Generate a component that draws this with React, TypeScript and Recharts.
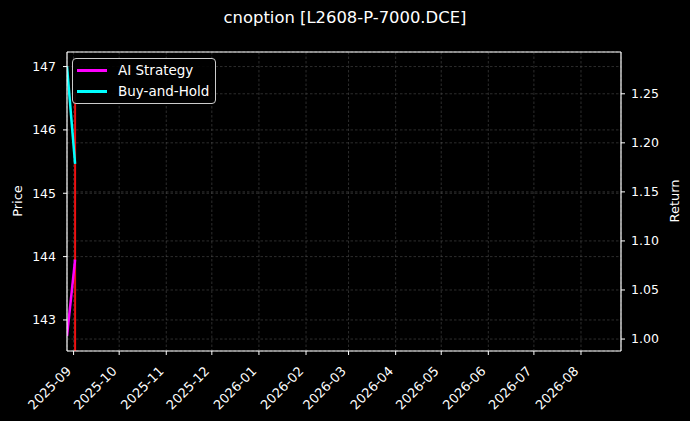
import { CartesianGrid, Line, LineChart, ReferenceLine, XAxis, YAxis } from 'recharts';

// sample times of the two series (UTC)
const dates = ['2025-08-27T16:00:00Z', '2025-09-02T00:00:00Z'];
const aiStrategy = [1.003, 1.081];
const buyAndHold = [1.278, 1.1785];

// red price trace on the signal day (low / high)
const signalDate = '2025-09-02T00:00:00Z';
const signalRange = [142.0, 146.6];

const monthTicks = [
  '2025-09', '2025-10', '2025-11', '2025-12', '2026-01', '2026-02',
  '2026-03', '2026-04', '2026-05', '2026-06', '2026-07', '2026-08',
];
const priceTicks = [143, 144, 145, 146, 147];
const returnTicks = [1.0, 1.05, 1.1, 1.15, 1.2, 1.25];

const xStart = Date.parse('2025-08-27T16:00:00Z');
const xEnd = Date.parse('2026-08-27T08:00:00Z');
const priceDomain = [142.51, 147.23];
const returnDomain = [0.9878, 1.2926];

const series = [
  { name: 'AI Strategy', key: 'ai', color: '#ff00ff' },
  { name: 'Buy-and-Hold', key: 'bh', color: '#00ffff' },
];

const data = dates.map((d, i) => ({
  t: Date.parse(d),
  ai: aiStrategy[i],
  bh: buyAndHold[i],
}));

const font = '"DejaVu Sans", sans-serif';
const fg = '#ffffff';

const monthMs = (m: string) => Date.parse(m + '-01T00:00:00Z');

const DateTick = (props: any) => {
  const { x, y, payload } = props;
  const d = new Date(payload.value);
  const label = `${d.getUTCFullYear()}-${String(d.getUTCMonth() + 1).padStart(2, '0')}`;
  return (
    <g transform={`translate(${x - 1.6},${y + 15})`}>
      <text textAnchor="end" transform="rotate(-45)" fill={fg} fontSize={13} fontFamily={font}>
        {label}
      </text>
    </g>
  );
};

const gridStyle = { stroke: '#5a5a5a', strokeDasharray: '2.5 2', strokeWidth: 0.5 };

export default function App() {
  const sx = Date.parse(signalDate);
  return (
    <div
      style={{
        position: 'absolute',
        left: 0,
        top: 0,
        width: 690,
        height: 421,
        background: '#000',
        fontFamily: font,
        color: fg,
      }}
    >
      <LineChart width={690} height={421} data={data} margin={{ top: 52, right: 0, bottom: 0, left: 0 }}>
        <CartesianGrid yAxisId="left" {...gridStyle} />
        <CartesianGrid yAxisId="right" vertical={false} {...gridStyle} />
        <XAxis
          dataKey="t"
          type="number"
          scale="time"
          domain={[xStart, xEnd]}
          allowDataOverflow
          ticks={monthTicks.map(monthMs)}
          interval={0}
          tick={<DateTick />}
          height={70}
          tickSize={4}
          tickMargin={2}
          stroke={fg}
          tickLine={{ stroke: fg }}
          axisLine={{ stroke: fg, strokeWidth: 1.2 }}
        />
        <YAxis
          yAxisId="left"
          orientation="left"
          type="number"
          domain={priceDomain}
          allowDataOverflow
          ticks={priceTicks}
          interval={0}
          width={67}
          tickSize={4}
          tickMargin={7}
          tick={{ fill: fg, fontSize: 12.5, fontFamily: font }}
          tickLine={{ stroke: fg }}
          axisLine={{ stroke: fg, strokeWidth: 1.2 }}
        />
        <YAxis
          yAxisId="right"
          orientation="right"
          type="number"
          domain={returnDomain}
          allowDataOverflow
          ticks={returnTicks}
          interval={0}
          tickFormatter={(v: number) => v.toFixed(2)}
          width={69}
          tickSize={4}
          tickMargin={6}
          tick={{ fill: fg, fontSize: 12.5, fontFamily: font }}
          tickLine={{ stroke: fg }}
          axisLine={{ stroke: fg, strokeWidth: 1.2 }}
        />
        <ReferenceLine yAxisId="left" y={priceDomain[1]} stroke={fg} strokeWidth={1.2} />
        <ReferenceLine
          yAxisId="left"
          segment={[
            { x: sx, y: signalRange[0] },
            { x: sx, y: signalRange[1] },
          ]}
          ifOverflow="hidden"
          stroke="#ee1111"
          strokeWidth={2}
        />
        {series.map((s) => (
          <Line
            key={s.key}
            yAxisId="right"
            type="linear"
            dataKey={s.key}
            name={s.name}
            stroke={s.color}
            strokeWidth={2.5}
            dot={false}
            isAnimationActive={false}
          />
        ))}
      </LineChart>

      <div style={{ position: 'absolute', left: 0, width: 690, top: 8, textAlign: 'center', fontSize: 16.4 }}>
        cnoption [L2608-P-7000.DCE]
      </div>
      <div
        style={{
          position: 'absolute',
          left: 17,
          top: 201,
          transform: 'translate(-50%, -50%) rotate(-90deg)',
          fontSize: 13,
          whiteSpace: 'nowrap',
        }}
      >
        Price
      </div>
      <div
        style={{
          position: 'absolute',
          left: 674,
          top: 201,
          transform: 'translate(-50%, -50%) rotate(-90deg)',
          fontSize: 13,
          whiteSpace: 'nowrap',
        }}
      >
        Return
      </div>

      <div
        style={{
          position: 'absolute',
          left: 72,
          top: 58,
          width: 144,
          height: 46,
          boxSizing: 'border-box',
          border: '1px solid #cccccc',
          borderRadius: 4,
          background: 'rgba(0,0,0,0.9)',
          fontSize: 13.5,
        }}
      >
        {series.map((s, i) => (
          <div
            key={s.key}
            style={{ position: 'absolute', left: 4, top: 1 + i * 21, height: 20, display: 'flex', alignItems: 'center' }}
          >
            <span style={{ display: 'inline-block', width: 30, height: 3, background: s.color, marginRight: 11 }} />
            <span>{s.name}</span>
          </div>
        ))}
      </div>
    </div>
  );
}
